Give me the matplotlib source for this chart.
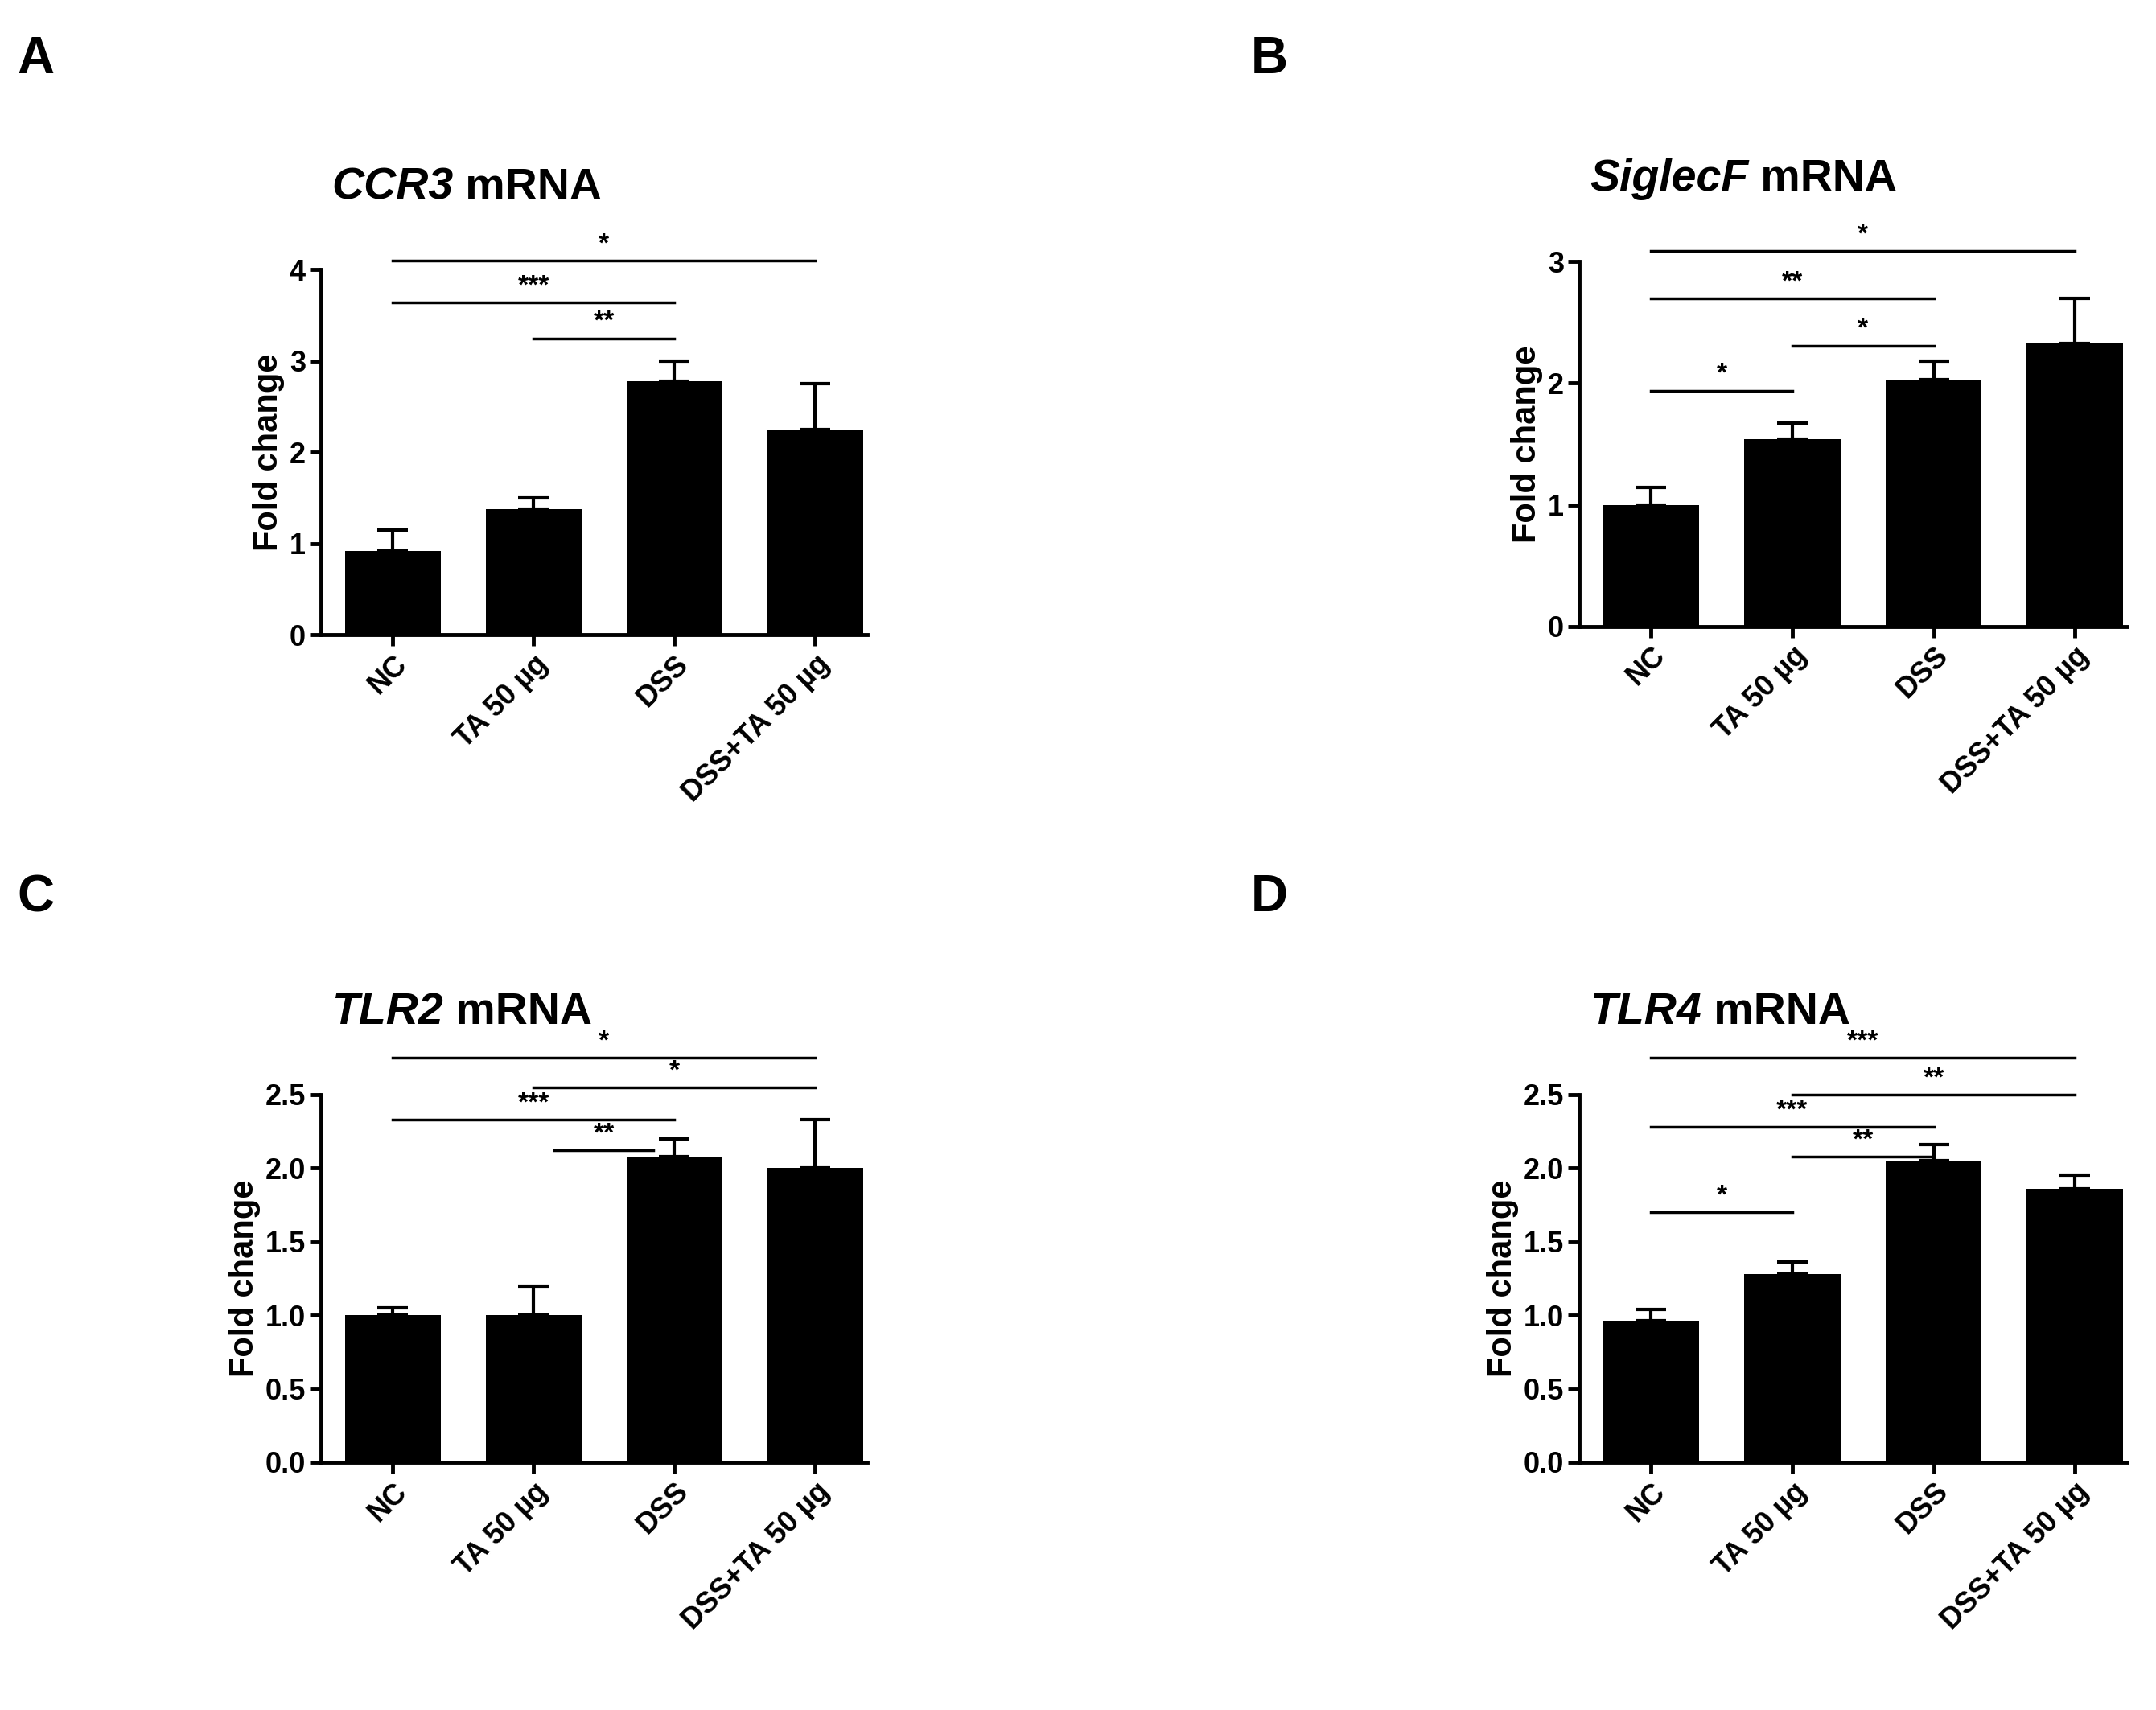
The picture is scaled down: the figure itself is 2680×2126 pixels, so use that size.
import matplotlib
matplotlib.use("Agg")
import matplotlib.pyplot as plt
import numpy as np

plt.rcParams['font.family'] = 'Liberation Sans'
plt.rcParams['font.weight'] = 'bold'

categories = ["NC", "TA 50 µg", "DSS", "DSS+TA 50 µg"]
genes = ["CCR3", "SiglecF", "TLR2", "TLR4"]
letters = ["A", "B", "C", "D"]
means_A = [0.92, 1.38, 2.78, 2.25]; err_A = [0.23, 0.12, 0.22, 0.50]
means_B = [1.00, 1.54, 2.03, 2.33]; err_B = [0.14, 0.13, 0.15, 0.37]
means_C = [1.00, 1.00, 2.08, 2.00]; err_C = [0.05, 0.20, 0.12, 0.33]
means_D = [0.96, 1.28, 2.05, 1.86]; err_D = [0.08, 0.08, 0.11, 0.09]
# significance: (i, j, y, label)
sig_A = [(0, 3, 4.10, "*"), (0, 2, 3.64, "***"), (1, 2, 3.25, "**")]
sig_B = [(0, 3, 3.09, "*"), (0, 2, 2.70, "**"), (1, 2, 2.31, "*"), (0, 1, 1.94, "*")]
sig_C = [(0, 3, 2.75, "*"), (1, 3, 2.55, "*"), (0, 2, 2.33, "***"), (1.15, 1.85, 2.12, "**")]
sig_D = [(0, 3, 2.75, "***"), (1, 3, 2.50, "**"), (0, 2, 2.28, "***"), (1, 2, 2.08, "**"), (0, 1, 1.70, "*")]
yticks_A = [0, 1, 2, 3, 4]
yticks_B = [0, 1, 2, 3]
yticks_CD = [0.0, 0.5, 1.0, 1.5, 2.0, 2.5]

fig = plt.figure(figsize=(26.8, 21.26), dpi=100)
rects = [[0.1488, 0.6288, 0.2535, 0.2134],
         [0.7324, 0.6337, 0.2542, 0.2133],
         [0.1488, 0.1449, 0.2535, 0.2150],
         [0.7324, 0.1449, 0.2542, 0.2150]]
data = [(means_A, err_A, sig_A, yticks_A, "%d"),
        (means_B, err_B, sig_B, yticks_B, "%d"),
        (means_C, err_C, sig_C, yticks_CD, "%.1f"),
        (means_D, err_D, sig_D, yticks_CD, "%.1f")]
letter_pos = [(0.008, 0.965), (0.58, 0.965), (0.008, 0.475), (0.58, 0.475)]
title_y = [0.89, 0.895, 0.408, 0.408]

x = np.arange(len(categories))
for k, (m, e, sig, yt, fmt) in enumerate(data):
    ax = fig.add_axes(rects[k])
    ax.bar(x, m, width=0.68, color='black')
    ax.errorbar(x, m, yerr=[np.zeros(4), e], fmt='none', ecolor='black',
                elinewidth=3, capsize=14, capthick=3)
    ax.set_xlim(-0.51, 3.37)
    ax.set_ylim(0, yt[-1])
    ax.set_yticks(yt)
    ax.set_yticklabels([fmt % v for v in yt])
    ax.set_xticks(x)
    ax.set_xticklabels(categories, rotation=45, ha='right', rotation_mode='anchor')
    for s in ['top', 'right']:
        ax.spines[s].set_visible(False)
    for s in ['left', 'bottom']:
        ax.spines[s].set_linewidth(3.5)
    ax.tick_params(width=3.5, length=10, labelsize=26)
    ax.set_ylabel("Fold change", fontsize=30, fontweight='bold')
    for (i, j, y, lab) in sig:
        ax.plot([i, j], [y, y], color='black', lw=2.5, clip_on=False)
        ax.text((i + j) / 2, y + 0.01 * yt[-1], lab, ha='center', va='bottom',
                fontsize=24, clip_on=False)
    # title
    t1 = fig.text(rects[k][0] + 0.005, title_y[k], genes[k], fontsize=40,
                  fontweight='bold', fontstyle='italic', va='center')
    fig.canvas.draw()
    bb = t1.get_window_extent().transformed(fig.transFigure.inverted())
    fig.text(bb.x1, title_y[k], " mRNA", fontsize=40, fontweight='bold', va='center')
    fig.text(letter_pos[k][0], letter_pos[k][1], letters[k], fontsize=46,
             fontweight='bold', va='center')

fig.savefig("out.png", dpi=100)
